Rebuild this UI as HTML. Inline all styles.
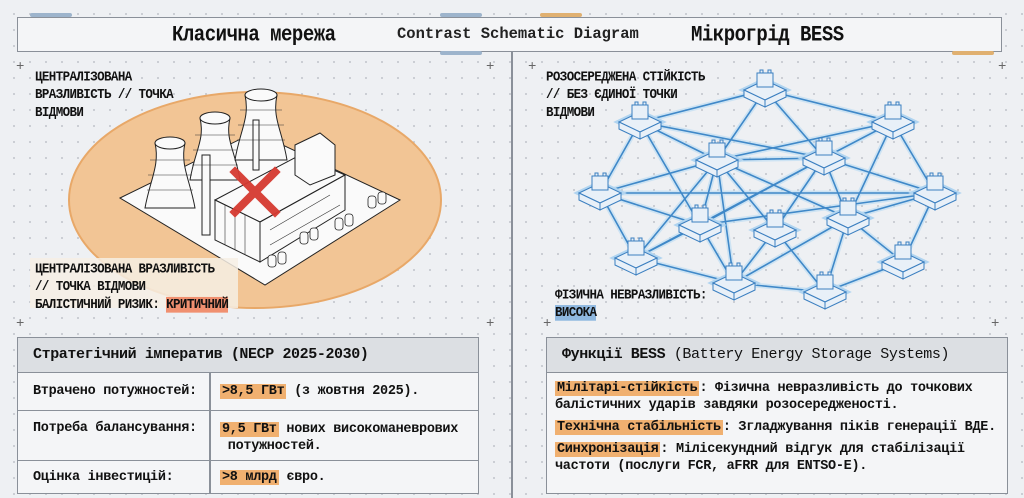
<!DOCTYPE html>
<html><head><meta charset="utf-8">
<style>
*{margin:0;padding:0;box-sizing:border-box}
body{width:1024px;height:498px;overflow:hidden;background:#eef0f3;font-family:"Liberation Mono","DejaVu Sans Mono",monospace;color:#111;position:relative;
background-image:radial-gradient(circle,#c4c8ce 0.8px,transparent 1.2px);background-size:16px 16px;background-position:6px 6px}
.abs{position:absolute}
.hdr{left:17px;top:17px;width:985px;height:35px;border:1.5px solid #8a9099;background:#f4f5f7}
.t{font-weight:bold;font-size:19px;letter-spacing:-0.5px;transform:scaleY(1.15);transform-origin:top left}
.lbl{font-size:12.5px;font-weight:bold;line-height:16px;letter-spacing:-0.6px;transform:scaleY(1.12);transform-origin:top left}
.box{border:1.5px solid #8a9099;background:#f4f5f7}
.bh{background:#dcdfe3;border-bottom:1.5px solid #8a9099;height:35px;font-size:15px;font-weight:bold;padding:8px 0 0 15px;letter-spacing:-0.4px}
.hl{background:#f0b070;padding:0 2px}
.row{position:absolute;left:0;width:100%;border-top:1.5px solid #8a9099;font-size:13.5px;letter-spacing:-0.3px;font-weight:bold}
</style></head><body>
<div class="abs hdr"></div>
<div class="abs" style="left:30px;top:13px;width:42px;height:4px;background:#9db4cc;border-radius:2px"></div>
<div class="abs" style="left:440px;top:13px;width:42px;height:4px;background:#9db4cc;border-radius:2px"></div>
<div class="abs" style="left:540px;top:13px;width:42px;height:4px;background:#e0b070;border-radius:2px"></div>
<div class="abs" style="left:440px;top:51px;width:42px;height:4px;background:#9db4cc;border-radius:2px"></div>
<div class="abs" style="left:952px;top:51px;width:42px;height:4px;background:#e0b070;border-radius:2px"></div>
<div class="abs t" style="left:172px;top:22px">Класична мережа</div>
<div class="abs" style="left:397px;top:25px;font-size:15.5px;font-weight:bold;color:#222">Contrast Schematic Diagram</div>
<div class="abs t" style="left:691px;top:22px">Мікрогрід BESS</div>
<div class="abs" style="left:511px;top:52px;width:1.5px;height:446px;background:#8a9099"></div>

<svg class="abs" style="left:0;top:0" width="1024" height="498">
<defs>
<path id="ep" d="M765,90 L640,122 M765,90 L717,160 M765,90 L824,158 M765,90 L893,122
M640,122 L717,160 M640,122 L600,193 M640,122 L700,225 M640,122 L824,158
M893,122 L824,158 M893,122 L935,193 M893,122 L848,218 M893,122 L717,160
M717,160 L824,158 M717,160 L600,193 M717,160 L700,225 M717,160 L775,230 M717,160 L734,283 M717,160 L848,218 M717,160 L636,258
M824,158 L935,193 M824,158 L848,218 M824,158 L775,230 M824,158 L636,258 M824,158 L700,225
M600,193 L700,225 M600,193 L636,258 M600,193 L935,193
M935,193 L848,218 M935,193 L903,262
M700,225 L734,283 M700,225 L636,258 M700,225 L935,193
M775,230 L825,292 M775,230 L734,283
M848,218 L825,292 M848,218 L903,262 M848,218 L734,283
M636,258 L734,283 M734,283 L825,292 M825,292 L903,262"/>
</defs>
<ellipse cx="255" cy="200" rx="186" ry="108" fill="#f2c595" stroke="#e8a868" stroke-width="2"/>
<text x="16" y="70" font-size="14" fill="#666">+</text><text x="486" y="70" font-size="14" fill="#666">+</text>
<text x="528" y="70" font-size="14" fill="#666">+</text><text x="486" y="327" font-size="14" fill="#666">+</text>
<text x="16" y="327" font-size="14" fill="#666">+</text><text x="998" y="70" font-size="14" fill="#666">+</text>
<text x="543" y="327" font-size="14" fill="#666">+</text><text x="991" y="327" font-size="14" fill="#666">+</text>
<g stroke="#222" stroke-width="1" fill="#fafafa">
<polygon points="120,198 255,132 400,200 265,285"/>
<path d="M145,208 C150,180 160,165 155,143 L185,143 C180,165 190,180 195,208 Z"/>
<ellipse cx="170" cy="143" rx="15" ry="6"/>
<path d="M190,180 C195,150 205,140 200,118 L230,118 C225,140 235,150 240,180 Z"/>
<ellipse cx="215" cy="118" rx="15" ry="6"/>
<path d="M235,160 C240,130 250,118 245,95 L277,95 C272,118 282,130 287,160 Z"/>
<ellipse cx="261" cy="95" rx="16" ry="6"/>
<rect x="202" y="155" width="8" height="80"/>
<rect x="253" y="120" width="6" height="50"/>
<polygon points="215,200 300,155 345,175 260,222"/>
<polygon points="215,200 260,222 260,262 215,240"/>
<polygon points="260,222 345,175 345,210 260,262"/>
<polygon points="295,145 320,133 335,145 335,175 310,185 295,175"/>
</g>
<g stroke="#333" stroke-width="0.6" fill="none">
<path d="M150,160 H190 M148,175 H192 M147,190 H193 M195,135 H235 M193,150 H237 M192,165 H238 M240,110 H282 M238,125 H284 M237,140 H285"/>
<path d="M225,205 V245 M235,210 V250 M245,215 V255 M270,230 L330,195 M270,245 L340,205"/>
</g>
<g stroke="#222" stroke-width="0.8" fill="#fafafa">
<rect x="300" y="232" width="8" height="12" rx="3"/><rect x="310" y="228" width="8" height="12" rx="3"/>
<rect x="268" y="255" width="8" height="12" rx="3"/><rect x="278" y="252" width="8" height="12" rx="3"/>
<rect x="335" y="218" width="8" height="12" rx="3"/><rect x="345" y="214" width="8" height="12" rx="3"/>
<rect x="368" y="196" width="8" height="12" rx="3"/><rect x="378" y="192" width="8" height="12" rx="3"/>
</g>
<g stroke="#d63a30" stroke-width="8" stroke-linecap="square" opacity="0.95">
<line x1="235" y1="172" x2="275" y2="212"/><line x1="275" y1="172" x2="235" y2="212"/>
</g>
<rect x="30" y="258" width="208" height="50" fill="#f6eee4" opacity="0.85"/>
<use href="#ep" fill="none" stroke="#b8daf4" stroke-width="5" opacity="0.6"/>
<use href="#ep" fill="none" stroke="#3f88c8" stroke-width="1.6"/>
</svg>
<svg class="abs" style="left:0;top:0" width="1024" height="498">
<defs><g id="n" stroke="#3b7fc0" stroke-width="1" fill="#e8f0f8">
<polygon points="-21,0 0,-10 21,0 0,10" stroke="#b0d4f0" stroke-width="5"/>
<polygon points="-21,0 0,-10 21,0 0,10"/>
<polygon points="-21,0 0,10 0,17 -21,7"/><polygon points="0,10 21,0 21,7 0,17"/>
<rect x="-8" y="-17" width="16" height="14"/><rect x="-5" y="-20" width="3" height="3"/><rect x="3" y="-20" width="3" height="3"/>
</g></defs>
<use href="#n" x="765" y="90"/><use href="#n" x="640" y="122"/><use href="#n" x="893" y="122"/>
<use href="#n" x="717" y="160"/><use href="#n" x="824" y="158"/><use href="#n" x="600" y="193"/>
<use href="#n" x="935" y="193"/><use href="#n" x="700" y="225"/><use href="#n" x="775" y="230"/>
<use href="#n" x="848" y="218"/><use href="#n" x="636" y="258"/><use href="#n" x="903" y="262"/>
<use href="#n" x="734" y="283"/><use href="#n" x="825" y="292"/>
</svg>

<div class="abs lbl" style="left:35px;top:68px">ЦЕНТРАЛІЗОВАНА<br>ВРАЗЛИВІСТЬ // ТОЧКА<br>ВІДМОВИ</div>
<div class="abs lbl" style="left:35px;top:260px">ЦЕНТРАЛІЗОВАНА ВРАЗЛИВІСТЬ<br>// ТОЧКА ВІДМОВИ<br>БАЛІСТИЧНИЙ РИЗИК: <span style="background:#f09070">КРИТИЧНИЙ</span></div>
<div class="abs lbl" style="left:546px;top:68px">РОЗОСЕРЕДЖЕНА СТІЙКІСТЬ<br>// БЕЗ ЄДИНОЇ ТОЧКИ<br>ВІДМОВИ</div>
<div class="abs lbl" style="left:555px;top:286px">ФІЗИЧНА НЕВРАЗЛИВІСТЬ:<br><span style="background:#8fb8e0">ВИСОКА</span></div>

<div class="abs box" style="left:17px;top:337px;width:462px;height:157px">
<div class="bh">Стратегічний імператив (NECP 2025-2030)</div>
<div class="abs" style="left:191px;top:35px;width:1.5px;height:120px;background:#8a9099"></div>
<div class="row" style="top:35px;height:38px;border-top:none"><span class="abs" style="left:15px;top:11px">Втрачено потужностей:</span><span class="abs" style="left:202px;top:11px"><span class="hl">&gt;8,5 ГВт</span> (з жовтня 2025).</span></div>
<div class="row" style="top:72px;height:50px"><span class="abs" style="left:15px;top:10px">Потреба балансування:</span><span class="abs" style="left:202px;top:10px;line-height:17px"><span class="hl">9,5 ГВт</span> нових високоманеврових<br>&nbsp;потужностей.</span></div>
<div class="row" style="top:122px;height:34px"><span class="abs" style="left:15px;top:9px">Оцінка інвестицій:</span><span class="abs" style="left:202px;top:9px"><span class="hl">&gt;8 млрд</span> євро.</span></div>
</div>

<div class="abs box" style="left:546px;top:337px;width:462px;height:157px">
<div class="bh">Функції BESS <span style="font-weight:normal">(Battery Energy Storage Systems)</span></div>
<div class="abs" style="left:8px;top:42px;font-size:13.5px;line-height:17px;letter-spacing:-0.3px;font-weight:bold">
<span class="hl">Мілітарі-стійкість</span>: Фізична невразливість до точкових<br>балістичних ударів завдяки розосередженості.
<div style="height:5px"></div>
<span class="hl">Технічна стабільність</span>: Згладжування піків генерації ВДЕ.
<div style="height:5px"></div>
<span class="hl">Синхронізація</span>: Мілісекундний відгук для стабілізації<br>частоти (послуги FCR, aFRR для ENTSO-E).
</div>
</div>
</body></html>
